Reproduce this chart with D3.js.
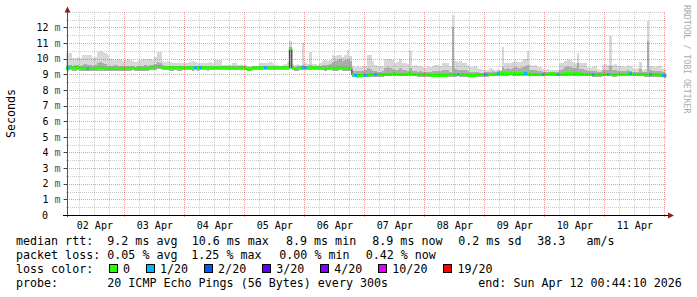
<!DOCTYPE html>
<html>
<head>
<meta charset="utf-8">
<title>smokeping 10 days</title>
<script src="https://d3js.org/d3.v7.min.js"></script>
<style>
body { margin: 0; background: #fff; }
svg { display: block; background: #fff; font-family: "DejaVu Sans Mono", monospace; }
text { white-space: pre; }
</style>
</head>
<body>
<script>
// hourly bins, first bin starts Sun Apr 02 00:00 UTC, 241 bins
var medRtt = [9.40,
  9.40,9.40,9.40,9.41,9.42,9.40,9.38,9.37,9.36,9.37,9.36,9.38,9.40,9.42,9.40,9.38,9.37,9.36,9.37,9.38,9.37,9.38,9.36,9.37,
  9.38,9.39,9.40,9.38,9.37,9.36,9.37,9.38,9.39,9.40,9.42,9.47,9.50,9.49,9.44,9.42,9.41,9.40,9.40,9.41,9.40,9.40,9.41,9.42,
  9.41,9.40,9.40,9.40,9.40,9.41,9.42,9.40,9.40,9.41,9.40,9.41,9.40,9.40,9.41,9.40,9.41,9.40,9.40,9.39,9.40,9.40,9.40,9.40,
  9.31,9.31,9.40,9.41,9.42,9.41,9.40,9.40,9.40,9.41,9.40,9.40,9.41,9.42,9.43,9.44,9.44,10.62,9.40,9.36,9.38,9.40,9.40,9.40,
  9.40,9.40,9.40,9.41,9.40,9.40,9.39,9.38,9.39,9.40,9.40,9.39,9.40,9.40,9.40,9.39,9.38,9.38,8.97,8.93,8.92,8.92,8.93,8.93,
  8.95,8.96,8.97,8.98,8.98,8.97,8.98,8.99,9.00,9.01,9.02,9.02,9.01,9.00,9.00,9.01,9.02,9.02,9.01,9.00,8.99,8.98,8.98,8.97,
  8.96,8.95,8.94,8.94,8.95,8.95,8.94,8.95,8.96,8.97,8.97,8.98,8.99,8.98,8.97,8.96,8.95,8.94,8.94,8.95,8.96,8.96,8.97,8.98,
  8.98,8.99,9.00,9.01,9.02,9.03,9.04,9.05,9.06,9.07,9.06,9.05,9.04,9.03,9.03,9.02,9.02,9.01,9.01,9.00,9.00,9.00,9.01,9.01,
  9.01,9.02,9.02,9.01,9.00,9.00,9.01,9.03,9.04,9.05,9.05,9.04,9.03,9.02,9.01,9.00,8.99,8.99,8.98,8.97,8.97,8.98,8.99,9.00,
  9.00,8.99,8.98,8.98,8.99,9.00,9.00,9.01,9.02,9.02,9.01,9.00,9.00,8.99,8.99,8.98,8.98,8.97,8.98,8.97,8.96,8.95,8.94,8.92];

var smokeLo = [9.24,
  9.24,9.25,9.22,9.24,9.26,9.23,9.22,9.20,9.18,9.20,9.19,9.20,9.22,9.21,9.20,9.18,9.20,9.19,9.20,9.22,9.20,9.22,9.20,9.21,
  9.22,9.24,9.25,9.22,9.20,9.19,9.21,9.22,9.24,9.25,9.26,9.30,9.33,9.32,9.28,9.26,9.25,9.24,9.24,9.25,9.24,9.23,9.25,9.26,
  9.26,9.25,9.24,9.25,9.24,9.26,9.27,9.25,9.24,9.26,9.25,9.26,9.25,9.26,9.27,9.26,9.27,9.25,9.26,9.25,9.26,9.26,9.27,9.25,
  9.18,9.19,9.26,9.27,9.28,9.27,9.26,9.26,9.27,9.27,9.26,9.27,9.28,9.29,9.29,9.30,9.30,9.35,9.25,9.22,9.24,9.26,9.27,9.26,
  9.27,9.26,9.27,9.28,9.27,9.26,9.25,9.24,9.25,9.26,9.24,9.22,9.24,9.25,9.24,9.23,9.22,9.23,8.82,8.80,8.79,8.80,8.80,8.81,
  8.82,8.83,8.84,8.85,8.85,8.84,8.85,8.86,8.86,8.87,8.88,8.87,8.86,8.86,8.86,8.87,8.88,8.88,8.87,8.86,8.85,8.84,8.85,8.84,
  8.83,8.82,8.81,8.81,8.82,8.82,8.81,8.82,8.83,8.84,8.84,8.85,8.86,8.85,8.84,8.83,8.82,8.81,8.82,8.82,8.83,8.83,8.84,8.85,
  8.85,8.86,8.87,8.88,8.88,8.89,8.90,8.91,8.92,8.93,8.92,8.91,8.90,8.90,8.89,8.89,8.88,8.88,8.88,8.87,8.87,8.87,8.88,8.88,
  8.88,8.89,8.88,8.88,8.87,8.87,8.88,8.89,8.90,8.91,8.92,8.91,8.90,8.89,8.88,8.87,8.86,8.86,8.85,8.84,8.84,8.85,8.86,8.86,
  8.87,8.86,8.85,8.85,8.86,8.86,8.87,8.88,8.88,8.89,8.88,8.87,8.87,8.86,8.86,8.85,8.85,8.84,8.85,8.84,8.83,8.82,8.81,8.79];

var smokeMid = [9.60,
  9.60,9.62,9.55,9.58,9.60,9.55,9.60,9.65,9.62,9.60,9.55,9.58,9.75,9.80,9.72,9.65,9.55,9.52,9.55,9.58,9.55,9.50,9.52,9.55,
  9.55,9.52,9.50,9.48,9.50,9.52,9.55,9.58,9.55,9.58,9.60,9.68,9.78,9.72,9.60,9.55,9.52,9.50,9.52,9.50,9.50,9.52,9.50,9.52,
  9.52,9.50,9.52,9.55,9.50,9.52,9.50,9.52,9.50,9.50,9.52,9.55,9.55,9.50,9.50,9.52,9.50,9.50,9.50,9.50,9.50,9.48,9.50,9.48,
  9.45,9.45,9.48,9.50,9.50,9.50,9.52,9.50,9.55,9.55,9.52,9.50,9.50,9.50,9.52,9.50,9.55,10.75,9.50,9.48,9.50,9.50,9.62,9.55,
  9.52,9.60,9.50,9.50,9.52,9.55,9.60,9.62,9.60,9.65,9.80,9.85,9.90,9.95,9.85,9.90,10.00,9.85,9.20,9.18,9.22,9.20,9.22,9.25,
  9.40,9.35,9.20,9.18,9.15,9.15,9.20,9.40,9.45,9.40,9.35,9.25,9.30,9.40,9.25,9.25,9.22,9.40,9.20,9.20,9.15,9.18,9.15,9.12,
  9.12,9.15,9.18,9.20,9.22,9.18,9.25,9.30,9.25,9.15,12.00,9.35,9.30,9.30,9.28,9.25,9.20,9.15,9.15,9.15,9.12,9.10,9.10,9.12,
  9.12,9.15,9.18,9.15,9.18,9.18,9.45,9.35,9.38,9.35,9.40,9.45,9.42,9.40,9.45,9.50,9.60,9.30,9.25,9.30,9.20,9.18,9.15,9.15,
  9.15,9.15,9.12,9.15,9.12,9.30,9.35,9.45,9.50,9.45,9.40,9.38,9.70,9.35,9.32,9.30,9.20,9.18,9.20,9.22,9.15,9.12,9.25,9.28,
  9.25,9.50,9.25,9.28,9.20,9.20,9.22,9.18,9.25,9.22,9.15,9.12,9.15,9.35,9.12,9.15,11.10,9.25,9.22,9.20,9.22,9.20,9.12,9.10];

var smokeHi = [10.35,
  10.35,10.35,10.05,10.05,10.10,10.05,10.20,10.25,10.25,10.20,10.05,10.10,10.45,10.47,10.40,10.35,10.20,10.00,9.95,9.90,10.00,9.95,9.85,9.90,
  9.95,9.90,9.85,9.80,9.85,9.90,10.00,9.95,10.00,9.95,9.90,10.10,10.45,10.40,9.85,9.80,9.85,9.80,9.75,9.75,9.70,9.75,9.70,9.70,
  9.75,9.80,9.85,9.80,9.75,9.75,9.70,9.75,9.70,9.80,9.75,9.90,9.90,9.90,9.60,9.60,9.60,9.60,9.70,9.70,9.60,9.60,9.60,9.60,
  9.55,9.55,9.55,9.55,9.55,9.70,9.70,9.70,9.75,9.80,9.70,9.60,9.60,9.55,9.60,9.65,9.80,11.10,9.65,9.60,9.65,9.60,11.00,9.70,
  9.65,10.40,9.65,9.65,9.60,9.70,9.85,9.90,9.85,9.90,10.20,10.15,10.20,10.25,10.10,10.20,10.55,10.15,9.50,9.45,9.50,9.45,9.50,9.55,
  10.25,10.20,9.85,9.60,9.55,9.50,9.55,9.95,10.00,9.95,9.90,9.70,9.80,9.95,9.70,9.75,9.65,10.50,9.55,9.60,9.50,9.55,9.45,9.40,
  9.50,9.45,9.55,9.60,9.60,9.55,9.70,9.75,9.70,9.50,12.80,9.85,9.80,9.85,9.75,9.70,9.60,9.45,9.45,9.50,9.40,9.35,9.30,9.25,
  9.30,9.40,9.35,9.30,9.35,9.30,10.75,9.70,9.75,9.70,9.80,9.85,9.80,9.80,9.90,9.95,10.50,9.60,9.55,9.60,9.45,9.45,9.35,9.30,
  9.35,9.30,9.25,9.30,9.25,9.70,9.75,9.85,10.00,9.90,9.80,9.75,10.35,9.70,9.75,9.70,9.45,9.40,9.45,9.50,9.35,9.30,9.60,9.65,
  9.60,11.45,9.60,9.65,9.50,9.50,9.55,9.45,9.60,9.55,9.40,9.35,9.40,9.80,9.30,9.35,12.40,9.55,9.50,9.45,9.55,9.50,9.35,9.35];

// bins with packet loss (pings lost out of 20, hourly average)
var lossBins  = [1, 9, 52, 54, 80, 95, 96, 116, 120, 124, 157, 168, 173, 184, 191, 197, 211, 217, 226, 234, 239, 240];
var lossPings = [0.08, 0.17, 0.08, 0.08, 0.08, 0.25, 0.08, 0.17, 0.08, 0.08, 0.08, 0.08, 0.08, 0.08, 0.17, 0.08, 0.08, 0.08, 0.08, 0.08, 0.08, 0.08];

var lossSteps  = [0, 1, 2, 3, 4, 10, 19];
var lossLabels = ['0', '1/20', '2/20', '3/20', '4/20', '10/20', '19/20'];
var lossColors = ['#26ff00', '#00b8ff', '#0059ff', '#5e00ff', '#7e00ff', '#dd00ff', '#ff0000'];

var yTicks = [0, 1, 2, 3, 4, 5, 6, 7, 8, 9, 10, 11, 12];

var rttStats  = ['9.2 ms avg', '10.6 ms max', '8.9 ms min', '8.9 ms now', '0.2 ms sd', '38.3   am/s'];
var lossStats = ['0.05 % avg', '1.25 % max', '0.00 % min', '0.42 % now'];
var probeText = '20 ICMP Echo Pings (56 Bytes) every 300s';
var endText   = 'end: Sun Apr 12 00:44:10 2026';

var width = 697, height = 297;
var plotLeft = 66.2, plotRight = 666.2, plotTop = 11.7, plotBottom = 215;
var fs = 11.66, cw = fs * 0.602;

var tStart = new Date(Date.UTC(2026, 3, 2, 0, 44, 10));
var tEnd = new Date(Date.UTC(2026, 3, 12, 0, 44, 10));
var binStart = Date.UTC(2026, 3, 2, 0, 0, 0);
function binTime(k) { return new Date(binStart + k * 3600e3); }

var x = d3.scaleUtc().domain([tStart, tEnd]).range([plotLeft, plotRight]);
var y = d3.scaleLinear().domain([0, 13]).range([plotBottom, plotTop]);

var lossByBin = {};
lossBins.forEach(function (b, i) { lossByBin[b] = lossPings[i]; });
function lossColor(l) {
  if (!l) return lossColors[0];
  for (var i = 1; i < lossSteps.length; i++) if (l <= lossSteps[i]) return lossColors[i];
  return lossColors[lossColors.length - 1];
}

var svg = d3.select('body').append('svg')
  .attr('width', width)
  .attr('height', height);

svg.append('defs').append('clipPath').attr('id', 'plot')
  .append('rect').attr('x', plotLeft).attr('y', plotTop)
  .attr('width', plotRight - plotLeft).attr('height', plotBottom - plotTop);

var bins = d3.range(medRtt.length);

// smoke
var smoke = svg.append('g').attr('clip-path', 'url(#plot)').attr('shape-rendering', 'crispEdges');
smoke.selectAll('rect.outer').data(bins).enter().append('rect')
  .attr('x', function (k) { return x(binTime(k)); })
  .attr('width', function (k) { return x(binTime(k + 1)) - x(binTime(k)); })
  .attr('y', function (k) { return y(smokeHi[k]); })
  .attr('height', function (k) { return y(smokeLo[k]) - y(smokeHi[k]); })
  .attr('fill', '#d8d8d8');
smoke.selectAll('rect.inner').data(bins).enter().append('rect')
  .attr('x', function (k) { return x(binTime(k)); })
  .attr('width', function (k) { return x(binTime(k + 1)) - x(binTime(k)); })
  .attr('y', function (k) { return y(smokeMid[k]); })
  .attr('height', function (k) { return y(smokeLo[k]) - y(smokeMid[k]); })
  .attr('fill', '#acacac');

// median
var med = svg.append('g').attr('clip-path', 'url(#plot)');
var stepPts = bins.concat([medRtt.length]);
med.append('path')
  .datum(stepPts)
  .attr('fill', 'none')
  .attr('stroke', '#202020')
  .attr('stroke-width', 1)
  .attr('d', d3.line()
    .curve(d3.curveStepAfter)
    .x(function (k) { return x(binTime(k)); })
    .y(function (k) { return y(medRtt[Math.min(k, medRtt.length - 1)]); }));
med.selectAll('rect').data(bins).enter().append('rect')
  .attr('shape-rendering', 'crispEdges')
  .attr('x', function (k) { return x(binTime(k)); })
  .attr('width', function (k) { return x(binTime(k + 1)) - x(binTime(k)); })
  .attr('y', function (k) { return y(medRtt[k]) - 1.5; })
  .attr('height', 3)
  .attr('fill', function (k) { return lossColor(lossByBin[k]); });

// grid on top, like rrdtool
var grid = svg.append('g').attr('shape-rendering', 'crispEdges');
d3.range(1, 27).forEach(function (i) {
  var v = i / 2, major = (i % 2 === 0 && v <= 12);
  grid.append('line')
    .attr('x1', major ? 63 : plotLeft).attr('x2', plotRight)
    .attr('y1', Math.round(y(v)) + 0.5).attr('y2', Math.round(y(v)) + 0.5)
    .attr('stroke', major ? 'rgba(205,40,40,0.45)' : 'rgba(130,130,130,0.4)')
    .attr('stroke-dasharray', '1,1');
});
d3.utcHour.every(6).range(tStart, tEnd).forEach(function (t) {
  var major = t.getUTCHours() === 0;
  grid.append('line')
    .attr('x1', Math.round(x(t)) + 0.5).attr('x2', Math.round(x(t)) + 0.5)
    .attr('y1', plotTop).attr('y2', major ? plotBottom + 3 : plotBottom)
    .attr('stroke', major ? 'rgba(205,40,40,0.45)' : 'rgba(130,130,130,0.4)')
    .attr('stroke-dasharray', '1,1');
});

// axes
var yAxis = svg.append('g')
  .attr('transform', 'translate(67.5,0)')
  .call(d3.axisLeft(y).tickValues(yTicks).tickSize(4).tickPadding(0).tickFormat(function (d) { return d; }));
yAxis.select('.domain').remove();
yAxis.selectAll('.tick line').attr('stroke', '#444').attr('shape-rendering', 'crispEdges');
yAxis.selectAll('.tick text')
  .attr('font-family', '"DejaVu Sans Mono", monospace')
  .attr('font-size', 10)
  .attr('fill', '#000')
  .attr('x', function (d) { return d ? -7 : -19.5; })
  .each(function (d) {
    if (!d) return;
    var t = d3.select(this);
    t.text(null);
    t.append('tspan').text(d);
    t.append('tspan').attr('fill', '#555').text(' m');
  });

var noons = d3.utcDay.range(binTime(0), tEnd)
  .map(function (d) { return d3.utcHour.offset(d, 12); })
  .filter(function (d) { return d < tEnd; });
var xAxis = svg.append('g')
  .attr('transform', 'translate(0,' + plotBottom + ')')
  .call(d3.axisBottom(x).tickValues(noons).tickSize(0).tickPadding(6.4).tickFormat(d3.utcFormat('%d %b')));
xAxis.select('.domain').remove();
xAxis.selectAll('.tick text')
  .attr('font-family', '"DejaVu Sans Mono", monospace')
  .attr('font-size', 10)
  .attr('fill', '#000');

svg.append('line').attr('x1', 67.5).attr('x2', 67.5).attr('y1', 9).attr('y2', plotBottom + 2)
  .attr('stroke', '#505050');
svg.append('line').attr('x1', 63).attr('x2', 669).attr('y1', plotBottom + 0.5).attr('y2', plotBottom + 0.5)
  .attr('stroke', '#000');
svg.append('path').attr('d', 'M64.5,12.5L67.5,6.5L70.5,12.5Z').attr('fill', '#8b2222');
svg.append('path').attr('d', 'M668,212.5L674,215.5L668,218.5Z').attr('fill', '#8b2222');

// side labels
svg.append('text')
  .attr('transform', 'translate(14.5,113.5) rotate(-90)')
  .attr('text-anchor', 'middle')
  .attr('font-size', fs)
  .text('Seconds');
svg.append('text')
  .attr('transform', 'translate(684.3,5) rotate(90)')
  .attr('font-size', 8.2)
  .attr('fill', '#aaaaaa')
  .text('RRDTOOL / TOBI OETIKER');

// legend
var rows = [245, 259, 273, 287];
var leg = svg.append('g').attr('font-size', fs).attr('fill', '#000');
function put(txt, px, row) { leg.append('text').attr('x', px).attr('y', rows[row]).text(txt); }

put('median rtt:', 16, 0);
[107.3, 191.7, 286, 372.3, 458.3, 537.3].forEach(function (px, i) { put(rttStats[i], px, 0); });
put('packet loss:', 16, 1);
[107.3, 191.3, 279.3, 365.7].forEach(function (px, i) { put(lossStats[i], px, 1); });
put('loss color:', 16, 2);
var bx = 109;
lossLabels.forEach(function (lab, i) {
  leg.append('rect').attr('x', bx + 0.5).attr('y', rows[2] - 8.5).attr('width', 8).attr('height', 8)
    .attr('fill', lossColors[i]).attr('stroke', '#000').attr('shape-rendering', 'crispEdges');
  put(lab, bx + 14, 2);
  bx = bx + 14 + lab.length * cw + 16;
});
put('probe:', 16, 3);
put(probeText, 107.3, 3);
put(endText, 478.3, 3);
</script>
</body>
</html>
